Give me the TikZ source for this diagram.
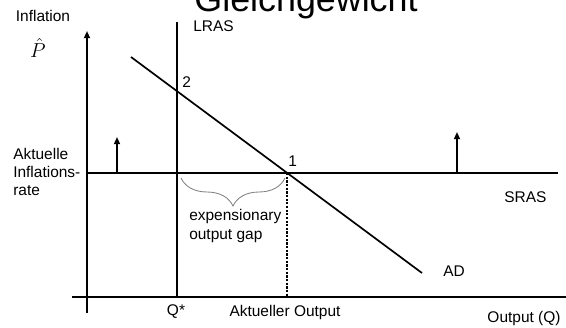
\documentclass[tikz,border=0pt]{standalone}
\usepackage{fontspec}
\setmainfont{Liberation Sans}
\usetikzlibrary{positioning,arrows.meta,decorations.pathreplacing}
\tikzset{
  ax/.style  = {line width=1.2pt, draw=black},
  cv/.style  = {line width=1.2pt, draw=black},
  up/.style  = {-{Triangle[length=1.8mm,width=1.5mm]}, line width=1.2pt},
  dt/.style  = {line width=0.9pt, dash pattern=on 1.6pt off 1pt},
  lbl/.style = {font=\fontsize{11}{13.1}\selectfont, inner sep=0pt},
  gap/.style = {decorate, decoration={brace, amplitude=7mm}, draw=gray, line width=0.6pt},
}

\begin{document}
\begin{tikzpicture}[x=0.025cm, y=-0.025cm]
\useasboundingbox (0,0) rectangle (566,328);

% ---- title (cut at the top edge)
\node[inner sep=0pt, anchor=base, font=\fontsize{25.5}{30}\selectfont] (title) at (306,12) {Gleichgewicht};

% ---- axes
\coordinate (ytop) at (87,31);
\coordinate (ybot) at (87,313);
\coordinate (xl)   at (72,297);
\coordinate (xr)   at (566,297);
\draw[ax, up] (ybot) -- (ytop);
\draw[ax] (xl) -- (xr);

% ---- curves
\coordinate (lt) at (177,22);
\coordinate (lb) at (177,297);
\coordinate (sl) at (87,173);
\coordinate (sr) at (558,173);
\coordinate (adl) at (131,57);
\coordinate (adr) at (422,273);
\coordinate (e1) at (287,173);
\coordinate (e2) at (177,91);
\coordinate (q1) at (287,297);
\draw[cv] (lt) -- (lb);
\draw[cv] (sl) -- (sr);
\draw[cv] (adl) -- (adr);
\draw[dt] (e1) -- (q1);

% ---- shift of SRAS
\coordinate (a1) at (117,173);
\coordinate (a1t) at (117,137);
\coordinate (a2) at (457,173);
\coordinate (a2t) at (457,132);
\draw[up] (a1) -- (a1t);
\draw[up] (a2) -- (a2t);

% ---- gap
\coordinate (gr) at (285,178);
\coordinate (gl) at (181,178);
\draw[gap] (gr) -- (gl);
\node[lbl, anchor=west, align=left] (gaptxt) at (189,226) {expensionary\\output gap};

% ---- labels
\node[lbl] (infl) at (43,16) {Inflation};
\node[inner sep=0pt, font=\fontsize{15}{17}\selectfont] (phat) at (38,48) {$\hat{P}$};
\node[lbl, anchor=west, align=left] (rate) at (13,172) {Aktuelle\\Inflations-\\rate};
\node[lbl, anchor=west] (lras) at (193,26) {LRAS};
\node[lbl, anchor=west] (sras) at (504,197) {SRAS};
\node[lbl, anchor=west] (ad) at (443,271) {AD};
\node[lbl, anchor=south west] (n2) at ([shift={(5,-3)}]e2) {2};
\node[lbl, anchor=south west] (n1) at ([shift={(1,-6)}]e1) {1};
\node[lbl] (qstar) at (176,312) {Q*};
\node[lbl] (qact) at (285,312) {Aktueller Output};
\node[lbl] (qaxis) at (524,318) {Output (Q)};

\end{tikzpicture}
\end{document}
